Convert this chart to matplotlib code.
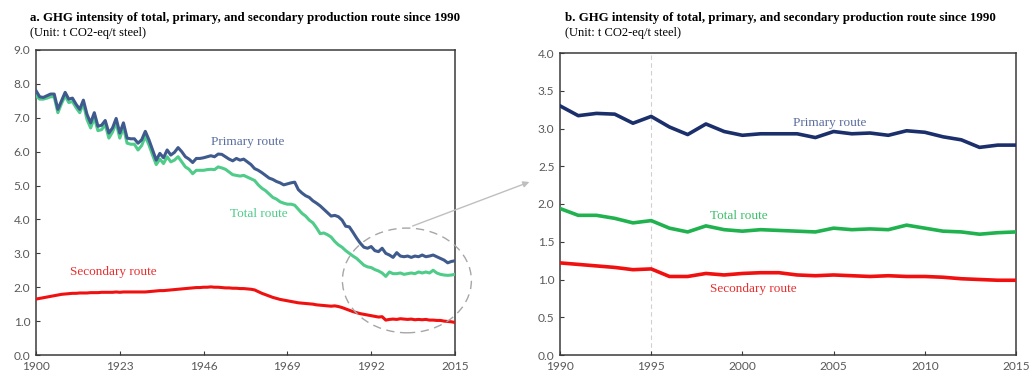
import numpy as np
import matplotlib
matplotlib.use("Agg")
import matplotlib.pyplot as plt
from matplotlib.patches import Ellipse, FancyArrowPatch

# DATA
years_long = list(range(1900, 2016))

primary_long = [
    7.80, 7.62, 7.60, 7.65, 7.70, 7.70, 7.25, 7.50, 7.75, 7.55,
    7.58, 7.40, 7.25, 7.52, 7.10, 6.85, 7.15, 6.75, 6.78, 6.92,
    6.55, 6.70, 6.98, 6.55, 6.85, 6.40, 6.38, 6.38, 6.25, 6.35,
    6.60, 6.35, 6.05, 5.75, 5.95, 5.82, 6.05, 5.90, 5.98, 6.12,
    6.00, 5.85, 5.78, 5.68, 5.80, 5.80, 5.82, 5.85, 5.88, 5.85,
    5.93, 5.92, 5.85, 5.78, 5.73, 5.80, 5.75, 5.78, 5.70, 5.62,
    5.50, 5.45, 5.38, 5.30, 5.22, 5.18, 5.12, 5.08, 5.02, 5.05,
    5.08, 5.10, 4.88, 4.78, 4.70, 4.65, 4.55, 4.48, 4.40, 4.30,
    4.20, 4.10, 4.12, 4.08, 3.98, 3.80, 3.78, 3.62, 3.45, 3.30,
    3.18, 3.15, 3.20, 3.08, 3.05, 3.15, 3.00, 2.95, 2.88, 3.02,
    2.92, 2.90, 2.92, 2.88, 2.92, 2.90, 2.95, 2.90, 2.92, 2.95,
    2.90, 2.85, 2.80, 2.72, 2.76, 2.78,
]

total_long = [
    7.65, 7.55, 7.55, 7.58, 7.62, 7.62, 7.15, 7.42, 7.65, 7.45,
    7.48, 7.30, 7.15, 7.42, 6.95, 6.70, 7.00, 6.62, 6.65, 6.80,
    6.40, 6.58, 6.85, 6.40, 6.72, 6.25, 6.22, 6.22, 6.05, 6.18,
    6.45, 6.20, 5.90, 5.62, 5.78, 5.65, 5.85, 5.70, 5.75, 5.85,
    5.70, 5.55, 5.48, 5.35, 5.45, 5.45, 5.45, 5.47, 5.48, 5.47,
    5.55, 5.52, 5.48, 5.40, 5.32, 5.30, 5.28, 5.30, 5.25, 5.20,
    5.15, 5.02, 4.92, 4.85, 4.75, 4.65, 4.60, 4.52, 4.48, 4.45,
    4.45, 4.42, 4.30, 4.18, 4.10, 3.98, 3.90, 3.75, 3.58, 3.60,
    3.55, 3.48, 3.35, 3.25, 3.18, 3.08, 3.00, 2.92, 2.85, 2.75,
    2.65, 2.60, 2.58, 2.52, 2.48, 2.42, 2.32, 2.45, 2.40, 2.40,
    2.42, 2.38, 2.40, 2.42, 2.40, 2.45, 2.42, 2.45, 2.42, 2.50,
    2.42, 2.38, 2.36, 2.35, 2.36, 2.38,
]

secondary_long = [
    1.65, 1.67, 1.69, 1.71, 1.73, 1.75, 1.77, 1.79, 1.80, 1.81,
    1.82, 1.82, 1.83, 1.83, 1.83, 1.84, 1.84, 1.84, 1.85, 1.85,
    1.85, 1.85, 1.86, 1.85, 1.86, 1.86, 1.86, 1.86, 1.86, 1.86,
    1.86, 1.87, 1.88, 1.89, 1.90, 1.90, 1.91, 1.92, 1.93, 1.94,
    1.95, 1.96, 1.97, 1.98, 1.99, 1.99, 2.00, 2.00, 2.01, 2.00,
    2.00, 1.99, 1.98, 1.98, 1.97, 1.97, 1.96, 1.96, 1.95, 1.94,
    1.92, 1.87, 1.82, 1.78, 1.74, 1.70, 1.67, 1.64, 1.62, 1.60,
    1.58, 1.56, 1.54, 1.53, 1.52, 1.51, 1.50, 1.48, 1.47, 1.46,
    1.45, 1.44, 1.45, 1.43, 1.40, 1.36, 1.32, 1.28, 1.25, 1.22,
    1.20, 1.18, 1.16, 1.14, 1.12, 1.13, 1.03, 1.05, 1.06, 1.05,
    1.07, 1.06, 1.05, 1.06, 1.04, 1.05, 1.04, 1.05, 1.03, 1.03,
    1.02, 1.02, 1.00, 0.99, 0.98, 0.96,
]

years_short = list(range(1990, 2016))

primary_short = [
    3.30, 3.17, 3.20, 3.19, 3.07, 3.16, 3.02, 2.92, 3.06, 2.96,
    2.91, 2.93, 2.93, 2.93, 2.88, 2.96, 2.93, 2.94, 2.91, 2.97,
    2.95, 2.89, 2.85, 2.75, 2.78, 2.78,
]
total_short = [
    1.94, 1.85, 1.85, 1.81, 1.75, 1.78, 1.68, 1.63, 1.71, 1.66,
    1.64, 1.66, 1.65, 1.64, 1.63, 1.68, 1.66, 1.67, 1.66, 1.72,
    1.68, 1.64, 1.63, 1.60, 1.62, 1.63,
]
secondary_short = [
    1.22, 1.20, 1.18, 1.16, 1.13, 1.14, 1.04, 1.04, 1.08, 1.06,
    1.08, 1.09, 1.09, 1.06, 1.05, 1.06, 1.05, 1.04, 1.05, 1.04,
    1.04, 1.03, 1.01, 1.00, 0.99, 0.99,
]

long_ticks = [1900, 1923, 1946, 1969, 1992, 2015]
short_ticks = [1990, 1995, 2000, 2005, 2010, 2015]

# STYLE
SERIF = "Liberation Serif"
TICK_FONT = "Lato"
TICK_COLOR = "#595959"
SPINE_COLOR = "#3a3a3a"

fig = plt.figure(figsize=(10.34, 3.76), dpi=100)

ax1 = fig.add_axes([36 / 1034, 1 - 355 / 376, 419 / 1034, 305 / 376])
ax2 = fig.add_axes([560 / 1034, 1 - 355 / 376, 456 / 1034, 302 / 376])


def style_axes(ax):
    for s in ax.spines.values():
        s.set_color(SPINE_COLOR)
        s.set_linewidth(1.1)
    ax.tick_params(direction="in", length=3, width=0.8, color=SPINE_COLOR,
                   labelsize=8.6, labelcolor=TICK_COLOR, pad=4)
    for lab in ax.get_xticklabels() + ax.get_yticklabels():
        lab.set_fontfamily(TICK_FONT)


# LEFT PANEL
ax1.plot(years_long, total_long, color="#4FCB8A", lw=2.2, zorder=3)
ax1.plot(years_long, primary_long, color="#3F5A8C", lw=2.2, zorder=4)
ax1.plot(years_long, secondary_long, color="#F01010", lw=2.2, zorder=3)
ax1.set_xlim(1900, 2015)
ax1.set_ylim(0, 9)
ax1.set_xticks(long_ticks)
ax1.set_yticks(np.arange(0, 9.1, 1.0))
ax1.yaxis.set_major_formatter(matplotlib.ticker.FormatStrFormatter("%.1f"))
style_axes(ax1)

ax1.text(1948, 6.3, "Primary route", color="#5A6E9E", fontsize=9.5,
         family=SERIF, va="center")
ax1.text(1953.3, 4.15, "Total route", color="#4FCB8A", fontsize=9.5,
         family=SERIF, va="center")
ax1.text(1909.3, 2.45, "Secondary route", color="#E53030", fontsize=9.5,
         family=SERIF, va="center")

ell = Ellipse((2001.8, 2.2), 35.4, 3.09, fill=False, edgecolor="#A6A6A6",
              lw=1.0, ls=(0, (6, 4)), clip_on=False, zorder=5)
ax1.add_patch(ell)

# RIGHT PANEL
ax2.axvline(1995, color="#D0D0D0", lw=0.8, ls=(0, (4, 3)), zorder=1)
ax2.plot(years_short, primary_short, color="#1B2F6B", lw=2.6, zorder=3)
ax2.plot(years_short, total_short, color="#1FB24E", lw=2.6, zorder=3)
ax2.plot(years_short, secondary_short, color="#F01010", lw=2.6, zorder=3)
ax2.set_xlim(1990, 2015)
ax2.set_ylim(0, 4)
ax2.set_xticks(short_ticks)
ax2.set_yticks(np.arange(0, 4.01, 0.5))
ax2.yaxis.set_major_formatter(matplotlib.ticker.FormatStrFormatter("%.1f"))
style_axes(ax2)

ax2.text(2002.8, 3.07, "Primary route", color="#5A6E9E", fontsize=9.5,
         family=SERIF, va="center")
ax2.text(1998.2, 1.84, "Total route", color="#3CC06A", fontsize=9.5,
         family=SERIF, va="center")
ax2.text(1998.2, 0.88, "Secondary route", color="#E53030", fontsize=9.5,
         family=SERIF, va="center")

# ARROW from ellipse to zoomed panel
arrow = FancyArrowPatch((410 / 1034, 1 - 227 / 376), (532 / 1034, 1 - 181 / 376),
                        transform=fig.transFigure, arrowstyle="-|>",
                        mutation_scale=9, color="#BFBFBF", lw=1.0)
fig.add_artist(arrow)

# TITLES
fig.text(30 / 1034, 1 - 18 / 376,
         "a. GHG intensity of total, primary, and secondary production route since 1990",
         family=SERIF, fontweight="bold", fontsize=9.3, va="center")
fig.text(30 / 1034, 1 - 33 / 376, "(Unit: t CO2-eq/t steel)",
         family=SERIF, fontsize=9, va="center")
fig.text(565 / 1034, 1 - 18 / 376,
         "b. GHG intensity of total, primary, and secondary production route since 1990",
         family=SERIF, fontweight="bold", fontsize=9.3, va="center")
fig.text(565 / 1034, 1 - 33 / 376, "(Unit: t CO2-eq/t steel)",
         family=SERIF, fontsize=9, va="center")

fig.savefig("out.png", dpi=100)
